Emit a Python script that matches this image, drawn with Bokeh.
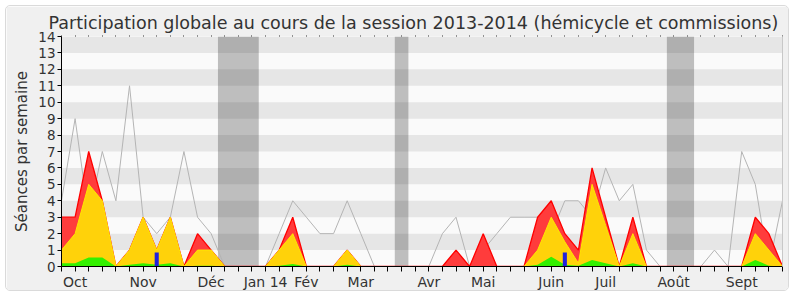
from bokeh.plotting import figure
from bokeh.models import FixedTicker, LinearAxis, Range1d
from bokeh.embed import file_html
from bokeh.resources import INLINE
import numpy as np

# ---- data (weeks of the 2013-2014 session) ----
weeks = list(range(54))
# grey line: median activity of deputies
median = [4, 9, 3, 7, 4, 11, 3, 2, 3, 7, 3, 2, 0, 0, 0, 0, 2, 4, 3, 2,
          2, 4, 2, 0, 0, 0, 0, 0, 2, 3, 0, 1, 2, 3, 3, 3, 2, 4, 4, 3,
          6, 4, 5, 1, 0, 0, 0, 0, 1, 0, 7, 5, 0, 4]
# red: total presence (hemicycle + commissions)
presence_total = [3, 3, 7, 4, 0, 1, 3, 1, 3, 0, 2, 1, 0, 0, 0, 0, 1, 3, 0, 0,
                  0, 1, 0, 0, 0, 0, 0, 0, 0, 1, 0, 2, 0, 0, 0, 3, 4, 2, 1, 6,
                  3, 0, 3, 0, 0, 0, 0, 0, 0, 0, 0, 3, 2, 0]
# yellow: presence in hemicycle
presence_hemi = [1, 2, 5, 4, 0, 1, 3, 1, 3, 0, 1, 1, 0, 0, 0, 0, 1, 2, 0, 0,
                 0, 1, 0, 0, 0, 0, 0, 0, 0, 0, 0, 0, 0, 0, 0, 1, 3, 1.5, 0.2, 5,
                 2.5, 0, 2, 0, 0, 0, 0, 0, 0, 0, 0, 2, 1, 0]
# green: interventions
interventions = [0.2, 0.2, 0.55, 0.55, 0, 0.1, 0.2, 0.1, 0.2, 0, 0.05, 0.05, 0, 0, 0, 0, 0.05, 0.15, 0, 0,
                 0, 0.1, 0, 0, 0, 0, 0, 0, 0, 0, 0, 0, 0, 0, 0, 0.1, 0.6, 0.1, 0.05, 0.4,
                 0.2, 0, 0.2, 0, 0, 0, 0, 0, 0, 0, 0, 0.4, 0.05, 0]
# blue bars: oral questions
question_weeks = [7, 37]
question_values = [0.85, 0.85]
# vacation periods (first and last week)
vac_start = [12, 25, 45]
vac_end = [14, 25, 46]
# month labels
month_weeks = [1, 6, 11, 15, 18, 22, 27, 31, 36, 40, 45, 50]
month_names = ["Oct", "Nov", "Déc", "Jan 14", "Fév", "Mar", "Avr", "Mai",
               "Juin", "Juil", "Août", "Sept"]
y_max = 14

FONT = "DejaVu Sans"
TXT = "#333333"

p = figure(width=784, height=286, output_backend="svg", toolbar_location=None,
           x_range=Range1d(weeks[0], weeks[-1]), y_range=Range1d(0, y_max),
           min_border_left=55, min_border_right=8, min_border_top=30,
           min_border_bottom=26,
           background_fill_color="#fafafa", border_fill_color="#f0f0f0",
           outline_line_color=None)
p.margin = (5, 0, 0, 5)
p.styles = {"border": "1px solid #dadada", "border-radius": "5px", "overflow": "hidden"}
p.grid.visible = False

p.title.text = "Participation globale au cours de la session 2013-2014 (hémicycle et commissions)"
p.title.text_font = FONT
p.title.text_font_size = "17.5px"
p.title.text_font_style = "normal"
p.title.text_color = TXT
p.title.align = "left"
p.title.offset = -13
p.title.standoff = 5

# stripes
sb = np.arange(1, y_max, 2)
p.quad(left=weeks[0], right=weeks[-1], bottom=sb, top=sb + 1,
       fill_color="#e6e6e6", line_color=None)

# vacations
p.quad(left=np.array(vac_start) - 0.5, right=np.array(vac_end) + 0.5,
       bottom=0, top=y_max, fill_color="black", fill_alpha=0.24, line_color=None)

# median grey line
p.line(weeks, median, line_color="#b4b4b4", line_width=1)

# stacked areas
p.varea(x=weeks, y1=0, y2=presence_total, fill_color="#ff3c3c")
p.line(weeks, presence_total, line_color="#ff0000", line_width=1.3)
p.varea(x=weeks, y1=0, y2=presence_hemi, fill_color="#ffd20a")
p.line(weeks, presence_hemi, line_color="#ffe600", line_width=1)
p.varea(x=weeks, y1=0, y2=interventions, fill_color="#33f000")

# questions
p.vbar(x=question_weeks, top=question_values, bottom=0, width=0.3,
       fill_color="#2222dd", line_color=None)

# axes
xa = p.xaxis[0]
xa.ticker = FixedTicker(ticks=weeks)
overrides = {w: "" for w in weeks}
for w, n in zip(month_weeks, month_names):
    overrides[w] = n
xa.major_label_overrides = overrides
xa.major_tick_out = 5
xa.major_tick_in = 0
xa.major_label_standoff = 2
xa.major_label_text_font = FONT
xa.major_label_text_font_size = "14px"
xa.major_label_text_color = TXT
xa.axis_line_color = "black"
xa.major_tick_line_color = "black"

ya = p.yaxis[0]
ya.ticker = FixedTicker(ticks=list(range(0, y_max + 1)))
ya.major_tick_out = 4
ya.major_tick_in = 0
ya.major_label_standoff = 2
ya.major_label_text_font = FONT
ya.major_label_text_font_size = "13.5px"
ya.major_label_text_color = TXT
ya.axis_label = "Séances par semaine"
ya.axis_label_text_font = FONT
ya.axis_label_text_font_size = "15px"
ya.axis_label_text_font_style = "normal"
ya.axis_label_text_color = TXT
ya.axis_label_standoff = 4
ya.axis_line_color = "black"

top = LinearAxis(ticker=FixedTicker(ticks=weeks), major_tick_out=1, major_tick_in=0,
                 axis_line_color=None, major_tick_line_color="#333333",
                 major_label_text_font_size="0px", major_label_standoff=0)
p.add_layout(top, "above")

right = LinearAxis(ticker=FixedTicker(ticks=[]), axis_line_color="#c8c8c8",
                   major_label_text_font_size="0px", major_tick_out=0, major_tick_in=0)
p.add_layout(right, "right")

open("out.html", "w").write(file_html(p, INLINE))
